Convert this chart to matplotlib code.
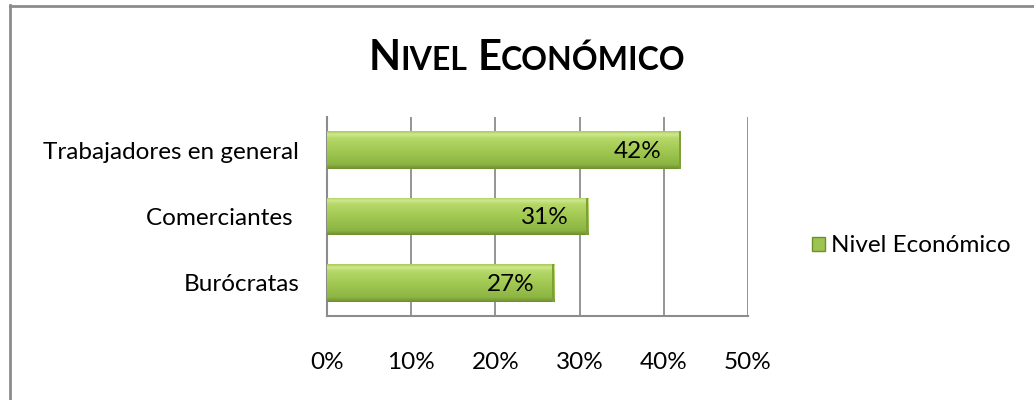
import matplotlib
matplotlib.use("Agg")
import matplotlib.pyplot as plt
import numpy as np
from matplotlib.colors import LinearSegmentedColormap
from matplotlib.patches import Rectangle

categories = ["Burócratas", "Comerciantes ", "Trabajadores en general"]
values = [0.27, 0.31, 0.42]
labels = ["27%", "31%", "42%"]
xticks = [0, 0.1, 0.2, 0.3, 0.4, 0.5]
xticklabels = ["0%", "10%", "20%", "30%", "40%", "50%"]
series_name = "Nivel Económico"

FONT = "Lato"
FS = 17.5
W, H = 1034, 400
fig = plt.figure(figsize=(W / 100, H / 100), dpi=100)
fig.patch.set_facecolor("white")

# outer frame (left and top lines visible)
fig.add_artist(plt.Line2D([9.5 / W, 9.5 / W], [0, 1 - 5 / H], transform=fig.transFigure,
                          color="#8c8c8c", lw=2))
fig.add_artist(plt.Line2D([9.5 / W, 1], [1 - 5.5 / H, 1 - 5.5 / H], transform=fig.transFigure,
                          color="#8c8c8c", lw=2))

ax_l, ax_r, ax_t, ax_b = 327, 748, 117, 316
ax = fig.add_axes([ax_l / W, 1 - ax_b / H, (ax_r - ax_l) / W, (ax_b - ax_t) / H])
ax.set_xlim(0, 0.5)
ax.set_ylim(-0.5, 2.5)

y = np.arange(len(categories))
bars = ax.barh(y, values, height=0.57, color="#9dc44f", edgecolor="none", zorder=3)

cmap = LinearSegmentedColormap.from_list(
    "g", [(0, "#6f8f2e"), (0.12, "#8cb443"), (0.5, "#a2c952"), (0.82, "#b5d869"), (0.92, "#cfe88e"), (1, "#a9cc58")])
grad = np.linspace(0, 1, 100).reshape(-1, 1)
for b in bars:
    x0, y0, w, h = b.get_x(), b.get_y(), b.get_width(), b.get_height()
    im = ax.imshow(grad, extent=[x0, x0 + w, y0, y0 + h], origin="lower", cmap=cmap,
                   aspect="auto", zorder=4)
    im.set_clip_path(b)
    ax.add_patch(Rectangle((x0 + w - 0.0025, y0), 0.0025, h, color="#7f9f3a", zorder=5, lw=0))

for yi, v, lab in zip(y, values, labels):
    ax.annotate(lab, (v, yi), xytext=(-14, -1), textcoords="offset points",
                ha="right", va="center", fontsize=FS, family=FONT, color="black", zorder=6)

ax.set_xticks(xticks)
ax.set_xticklabels(xticklabels, fontsize=FS, family=FONT)
ax.set_yticks(y)
ax.set_yticklabels(categories, fontsize=FS, family=FONT)
ax.tick_params(axis="x", length=0, pad=26)
ax.tick_params(axis="y", length=0, pad=20)
ax.xaxis.grid(True, color="#8c8c8c", lw=1.3, zorder=1)
ax.set_axisbelow(True)
ax.spines["top"].set_visible(False)
ax.spines["right"].set_visible(False)
for s in ["left", "bottom"]:
    ax.spines[s].set_color("#8c8c8c")
    ax.spines[s].set_linewidth(1.5)

# legend
leg = ax.legend([bars[0]], [series_name], loc="center left", bbox_to_anchor=(790 / W, 1 - 246 / H),
                bbox_transform=fig.transFigure, frameon=False, handlelength=0.55, handleheight=0.55,
                handletextpad=0.25, prop={"family": FONT, "size": FS})
for hnd in leg.legend_handles:
    hnd.set_edgecolor("#6f8f2e")
    hnd.set_linewidth(1)

# title in small caps
fig.canvas.draw()
renderer = fig.canvas.get_renderer()
pieces = [("N", 30), ("IVEL", 23), (" ", 30), ("E", 30), ("CONÓMICO", 23)]
texts = []
for s, sz in pieces:
    t = fig.text(0, 1 - 70 / H, s, fontsize=sz, fontweight="bold", family=FONT,
                 ha="left", va="baseline")
    texts.append(t)
widths = [t.get_window_extent(renderer).width for t in texts]
total = sum(widths)
xp = 527 - total / 2
for t, w in zip(texts, widths):
    t.set_x(xp / W)
    xp += w

fig.savefig("out.png", dpi=100)
